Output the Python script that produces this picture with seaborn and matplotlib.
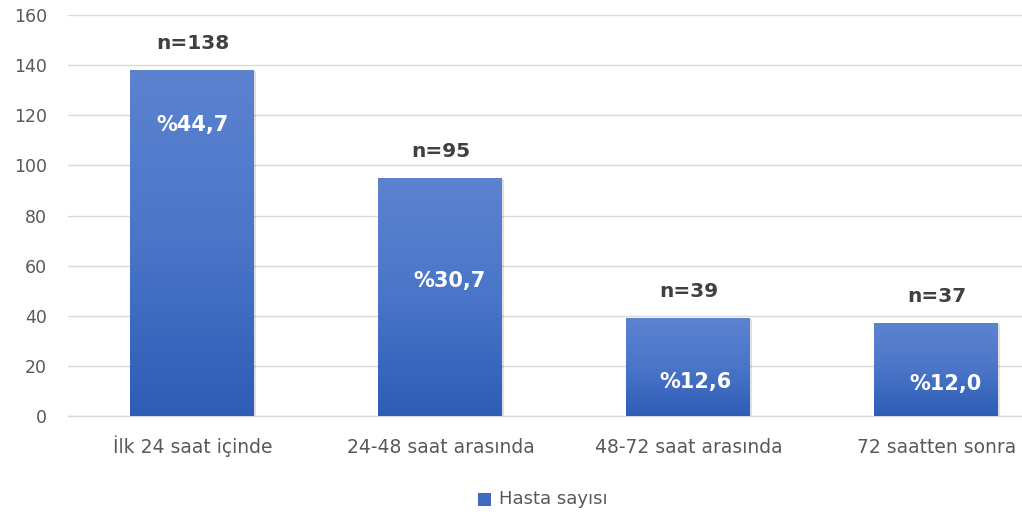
import numpy as np
import pandas as pd
import matplotlib
matplotlib.use("Agg")
import matplotlib.pyplot as plt
import seaborn as sns
from matplotlib.colors import LinearSegmentedColormap

# Patient counts by time of presentation
categories = ["İlk 24 saat içinde", "24-48 saat arasında", "48-72 saat arasında", "72 saatten sonra"]
counts = [138, 95, 39, 37]
percents = ["%44,7", "%30,7", "%12,6", "%12,0"]
series_name = "Hasta sayısı"
y_ticks = [0, 20, 40, 60, 80, 100, 120, 140, 160]

# Placement of the percentage labels inside each bar (x offset in category units, y in data units)
pct_label_dx = [0.0, 0.035, 0.027, 0.035]
pct_label_y = [116, 54, 13.6, 13]

sns.set_theme(style="white")
plt.rcParams["font.family"] = ["DejaVu Sans"]

fig = plt.figure(figsize=(10.22, 5.15), dpi=100)
ax = fig.add_axes([0.067, 0.192, 0.933, 0.779])

df = pd.DataFrame({"kategori": categories, "n": counts})
sns.barplot(data=df, x="kategori", y="n", color="#4472C4", width=0.5,
            saturation=1, ax=ax, zorder=3)

ax.set_ylim(0, 160)
ax.set_yticks(y_ticks)
ax.yaxis.grid(True, color="#D9D9D9", linewidth=1, zorder=0)
ax.set_axisbelow(True)
for s in ["top", "right", "left"]:
    ax.spines[s].set_visible(False)
ax.spines["bottom"].set_color("#D9D9D9")
ax.spines["bottom"].set_linewidth(1)
ax.set_xlabel("")
ax.set_ylabel("")
ax.tick_params(axis="both", length=0, labelcolor="#595959")
ax.tick_params(axis="y", labelsize=12.5, pad=15.5)
ax.tick_params(axis="x", labelsize=13.5, pad=26.5)
for lbl in ax.get_xticklabels():
    lbl.set_verticalalignment("baseline")

# Vertical gradient fill for each bar
cmap = LinearSegmentedColormap.from_list("bar_grad", ["#2E5DB6", "#4A75C8", "#5C83D0"])
grad = np.linspace(0, 1, 256).reshape(-1, 1)
for patch in ax.patches:
    x0, y0 = patch.get_x(), patch.get_y()
    w, h = patch.get_width(), patch.get_height()
    # soft shadow on the right edge
    shadow = plt.Rectangle((x0 + 0.008, y0), w, h - 0.3, color="#000000", alpha=0.12,
                           zorder=2, linewidth=0)
    ax.add_patch(shadow)
    im = ax.imshow(grad, extent=[x0, x0 + w, y0, y0 + h], origin="lower",
                   aspect="auto", cmap=cmap, zorder=4)
    im.set_clip_path(patch)
    patch.set_facecolor("none")
    patch.set_edgecolor("none")

for i, (c, p) in enumerate(zip(counts, percents)):
    ax.text(i, c + 10.7, f"n={c}", ha="center", va="center", fontsize=14.5,
            fontweight="bold", color="#404040", zorder=6)
    ax.text(i + pct_label_dx[i], pct_label_y[i], p, ha="center", va="center", fontsize=15,
            fontweight="bold", color="white", zorder=6)

ax.set_xlim(-0.5, 3.345)

# Legend below the chart
fig.patches.append(plt.Rectangle((0.4677, 0.0175), 0.0127, 0.0252, transform=fig.transFigure,
                                 facecolor="#3F6AC0", edgecolor="none", figure=fig))
fig.text(0.488, 0.031, series_name, ha="left", va="center", fontsize=13, color="#595959")

fig.savefig("out.png", dpi=100, facecolor="white")
